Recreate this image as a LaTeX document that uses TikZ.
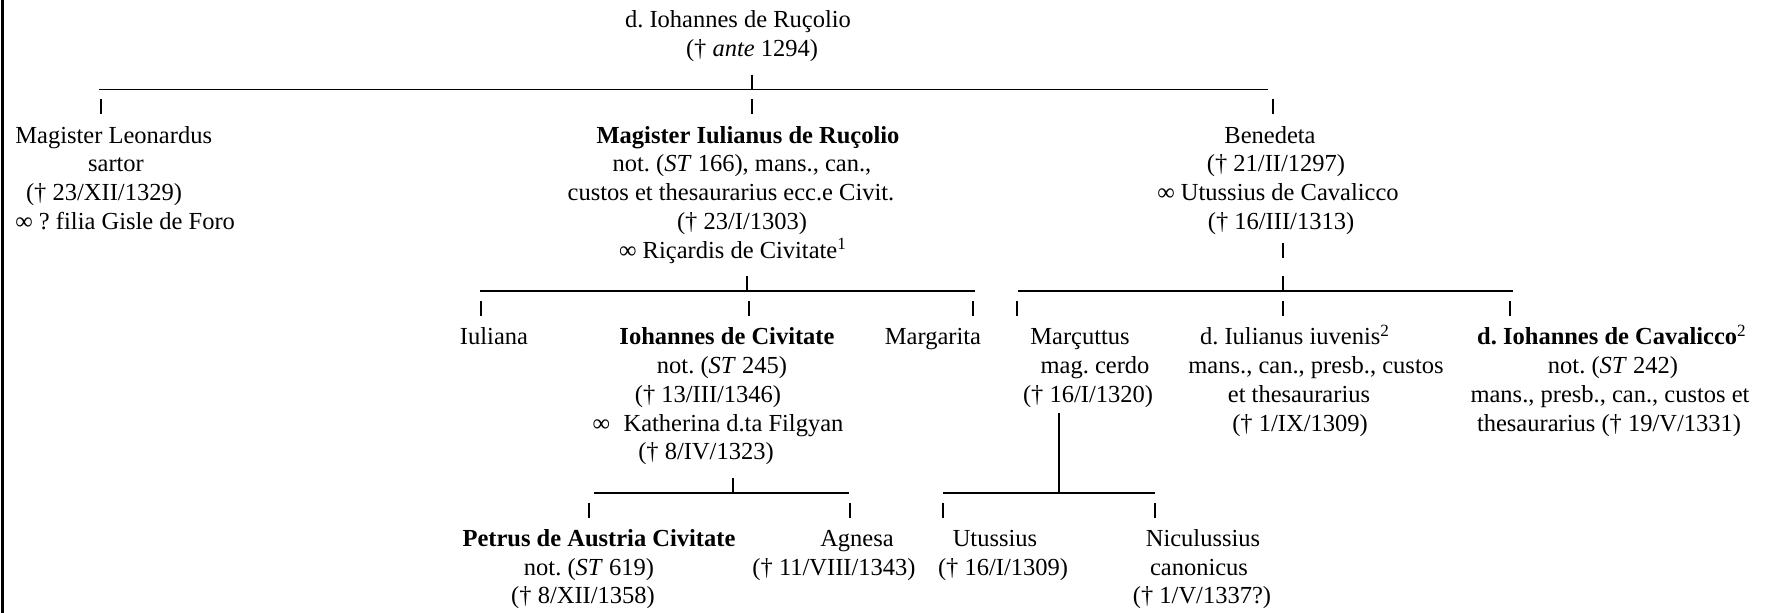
\documentclass[tikz,border=0pt]{standalone}
\usepackage{fontspec}
\setmainfont{Liberation Serif}
\frenchspacing
\newcommand\fs{\fontsize{12.25}{14}\selectfont}
% text line: name, centre x, row number, text
\newcommand\T[4]{\node[txt] (#1) at (#2,{28+28.8*#3}) {#4};}
% small vertical bar on a text row: name, x, row
\newcommand\famtick[3]{%
  \coordinate (#1t) at (#2,{13+28.8*#3});
  \coordinate (#1b) at (#2,{28+28.8*#3});
  \draw[vbar] (#1t) -- (#1b);}
% horizontal family line with middle bar: name, xL, xR, xM, row
\newcommand\famrule[5]{%
  \coordinate (#1L) at (#2,{32+28.8*#5});
  \coordinate (#1R) at (#3,{32+28.8*#5});
  \coordinate (#1M) at (#4,{32+28.8*#5});
  \coordinate (#1T) at (#4,{17+28.8*#5});
  \draw[hrule] (#1L) -- (#1R);
  \draw[vbar] (#1T) -- (#1M);}
\begin{document}
\begin{tikzpicture}[x=0.5pt,y=-0.5pt,
  txt/.style={anchor=base,inner sep=0pt,font=\fs},
  txtl/.style={anchor=base west,inner sep=0pt,font=\fs},
  hrule/.style={line width=0.8pt},
  vbar/.style={line width=0.7pt},
  frameline/.style={line width=1.5pt}]
\useasboundingbox (0,0) rectangle (1767,613);
\coordinate (fa) at (2,0);
\coordinate (fb) at (2,613);
\draw[frameline] (fa) -- (fb);

% generation 0
\T{t1}{738}{0}{d. Iohannes de Ruçolio}
\T{t2}{752}{1}{(† \textit{ante} 1294)}
\famrule{R0}{99}{1268}{752}{2}
\famtick{k1}{101}{3}
\famtick{k2}{752}{3}
\famtick{k3}{1273}{3}

% generation 1
\node[txtl] (leo1) at (15,{28+28.8*4}) {Magister Leonardus};
\T{leo2}{116}{5}{sartor}
\T{leo3}{104}{6}{(† 23/XII/1329)}
\node[txtl] (leo4) at (15,{28+28.8*7}) {∞ ? filia Gisle de Foro};

\T{iul1}{748}{4}{\textbf{Magister Iulianus de Ruçolio}}
\T{iul2}{742}{5}{not. (\textit{ST} 166), mans., can.,}
\T{iul3}{731}{6}{custos et thesaurarius ecc.e Civit.}
\T{iul4}{742}{7}{(† 23/I/1303)}
\T{iul5}{733}{8}{∞ Riçardis de Civitate\textsuperscript{1}}

\T{ben1}{1270}{4}{Benedeta}
\T{ben2}{1276}{5}{(† 21/II/1297)}
\T{ben3}{1278}{6}{∞ Utussius de Cavalicco}
\T{ben4}{1281}{7}{(† 16/III/1313)}
\famtick{k4}{1283}{8}

\famrule{R1}{480}{975}{747}{9}
\famrule{R2}{1018}{1513}{1283}{9}
\famtick{k5}{481}{10}
\famtick{k6}{749}{10}
\famtick{k7}{973}{10}
\famtick{k8}{1017}{10}
\famtick{k9}{1283}{10}
\famtick{k10}{1510}{10}

% generation 2
\T{iua}{494}{11}{Iuliana}
\T{ioc1}{727}{11}{\textbf{Iohannes de Civitate}}
\T{ioc2}{722}{12}{not. (\textit{ST} 245)}
\T{ioc3}{708}{13}{(† 13/III/1346)}
\T{ioc4}{718}{14}{∞\hspace{0.55em}Katherina d.ta Filgyan}
\T{ioc5}{706}{15}{(† 8/IV/1323)}
\T{mar}{933}{11}{Margarita}
\T{mc1}{1080}{11}{Marçuttus}
\T{mc2}{1095}{12}{mag. cerdo}
\T{mc3}{1088}{13}{(† 16/I/1320)}
\T{jiu1}{1295}{11}{d. Iulianus iuvenis\textsuperscript{2}}
\T{jiu2}{1316}{12}{mans., can., presb., custos}
\T{jiu3}{1299}{13}{et thesaurarius}
\T{jiu4}{1300}{14}{(† 1/IX/1309)}
\T{cav1}{1612}{11}{\textbf{d. Iohannes de Cavalicco}\textsuperscript{2}}
\T{cav2}{1613}{12}{not. (\textit{ST} 242)}
\T{cav3}{1610}{13}{mans., presb., can., custos et}
\T{cav4}{1609}{14}{thesaurarius († 19/V/1331)}

\famrule{R3}{594}{849}{733}{16}
\coordinate (R4L) at (943,{32+28.8*16});
\coordinate (R4R) at (1155,{32+28.8*16});
\coordinate (R4M) at (1059,{32+28.8*16});
\coordinate (mvt) at (1059,413);
\draw[hrule] (R4L) -- (R4R);
\draw[vbar] (mvt) -- (R4M);
\famtick{k11}{589}{17}
\famtick{k12}{850}{17}
\famtick{k13}{943}{17}
\famtick{k14}{1155}{17}

% generation 3
\T{pet1}{599}{18}{\textbf{Petrus de Austria Civitate}}
\T{pet2}{589}{19}{not. (\textit{ST} 619)}
\T{pet3}{583}{20}{(† 8/XII/1358)}
\T{agn1}{857}{18}{Agnesa}
\T{agn2}{834}{19}{(† 11/VIII/1343)}
\T{utu1}{995}{18}{Utussius}
\T{utu2}{1003}{19}{(† 16/I/1309)}
\T{nic1}{1203}{18}{Niculussius}
\T{nic2}{1199}{19}{canonicus}
\T{nic3}{1202}{20}{(† 1/V/1337?)}
\end{tikzpicture}
\end{document}
